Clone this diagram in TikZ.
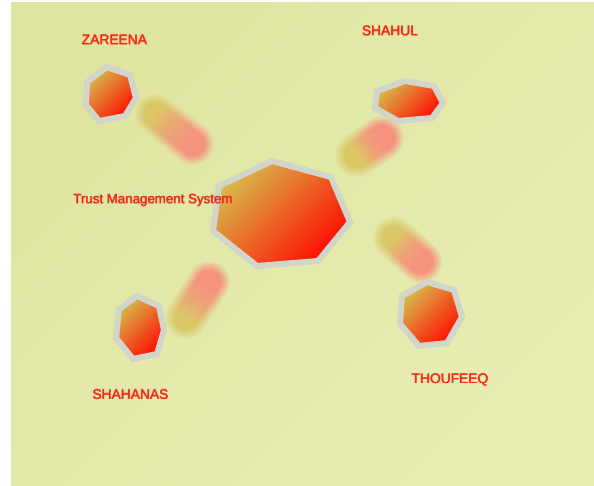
\documentclass[tikz,border=0pt]{standalone}
\usepackage{fontspec}
\setmainfont{Liberation Sans}
\usetikzlibrary{calc}
\definecolor{bgA}{RGB}{223,229,160}
\definecolor{bgB}{RGB}{232,238,178}
\definecolor{bgM}{RGB}{227,233,168}
\definecolor{hexgold}{RGB}{216,186,76}
\definecolor{hexred}{RGB}{255,12,0}
\definecolor{rimgray}{RGB}{210,213,202}
\definecolor{linkolive}{RGB}{218,200,102}
\definecolor{linksalmon}{RGB}{246,146,128}
\definecolor{labelred}{RGB}{243,42,28}
\tikzset{
  hept/.style={draw=rimgray, line width=6pt, top color=hexgold, bottom color=hexred, shading angle=45},
  lbl/.style={text=labelred, font=\fontsize{13.8}{16}\selectfont, inner sep=0pt, anchor=base},
  lblglow/.style={text=labelred, opacity=0.45, font=\fontsize{13.8}{16}\selectfont, inner sep=0pt, anchor=base},
}
\newcommand\blurlink[3]{%
  \foreach \k in {0,...,9}{%
    \pgfmathsetmacro\w{#3-2*\k}%
    \pgfmathsetmacro\r{\w/2}%
    \pgfmathsetmacro\q{(\k+1)*10}%
    \colorlet{lkA}{linkolive!\q!bgM}%
    \colorlet{lkB}{linksalmon!\q!bgM}%
    \fill[lkA] (#1) circle[radius=\r pt];
    \fill[lkB] (#2) circle[radius=\r pt];
    \foreach \i in {0,...,9}{%
      \pgfmathsetmacro\ta{\i/10}%
      \pgfmathsetmacro\tb{(\i+1)/10+0.02}%
      \pgfmathsetmacro\p{100*(1-(\i+0.5)/10)^1.5}%
      \colorlet{lk}{linkolive!\p!linksalmon}%
      \colorlet{lkm}{lk!\q!bgM}%
      \draw[line width=\w pt, line cap=butt, lkm] ($(#1)!\ta!(#2)$) -- ($(#1)!\tb!(#2)$);
    }
  }
}
\newcommand\glowlabel[4][]{%
  \foreach \dx/\dy in {-0.45/0,0.45/0,0/-0.45,0/0.45}{%
    \node[lblglow,#1] at ($(#2)+(\dx,\dy)$) {#4};
  }
  \node[lbl,#1] (#3) at (#2) {#4};
}
\begin{document}
\begin{tikzpicture}[x=1pt,y=-1pt]
\useasboundingbox (0,0) rectangle (594,486);
\fill[white] (0,0) rectangle (594,486);
\shade[top color=bgA, bottom color=bgB, shading angle=45] (11,3) rectangle (594,486);

% connector end points
\coordinate (l1a) at (155,114); \coordinate (l1b) at (193,144);
\coordinate (l2a) at (357,155); \coordinate (l2b) at (382,138);
\coordinate (l3a) at (394,238); \coordinate (l3b) at (421,262);
\coordinate (l4a) at (186,318); \coordinate (l4b) at (209,282);
\blurlink{l1a}{l1b}{42}
\blurlink{l2a}{l2b}{44}
\blurlink{l3a}{l3b}{42}
\blurlink{l4a}{l4b}{42}

% heptagons
\draw[hept] (272,161) -- (331,177) -- (350,222) -- (318,261) -- (257,266) -- (213,231) -- (219,186) -- cycle;
\draw[hept] (107,67) -- (130,75) -- (136,98) -- (125,116) -- (99,121) -- (86,105) -- (87,82) -- cycle;
\draw[hept] (405,81) -- (434,86) -- (443,103) -- (432,118) -- (398,121) -- (375,108) -- (377,91) -- cycle;
\draw[hept] (137,296) -- (159,306) -- (164,330) -- (157,354) -- (133,359) -- (116,338) -- (119,309) -- cycle;
\draw[hept] (427,282) -- (454,290) -- (462,317) -- (447,343) -- (419,346) -- (400,324) -- (402,296) -- cycle;

% labels
\coordinate (pz) at (114.5,45);
\coordinate (ps) at (390,36);
\coordinate (pt) at (153,204);
\coordinate (pq) at (450,383.5);
\coordinate (pn) at (130.5,399);
\glowlabel{pz}{zareena}{ZAREENA}
\glowlabel{ps}{shahul}{SHAHUL}
\glowlabel[font=\fontsize{13.3}{16}\selectfont]{pt}{tms}{Trust Management System}
\glowlabel{pq}{thoufeeq}{THOUFEEQ}
\glowlabel{pn}{shahanas}{SHAHANAS}
\end{tikzpicture}
\end{document}
